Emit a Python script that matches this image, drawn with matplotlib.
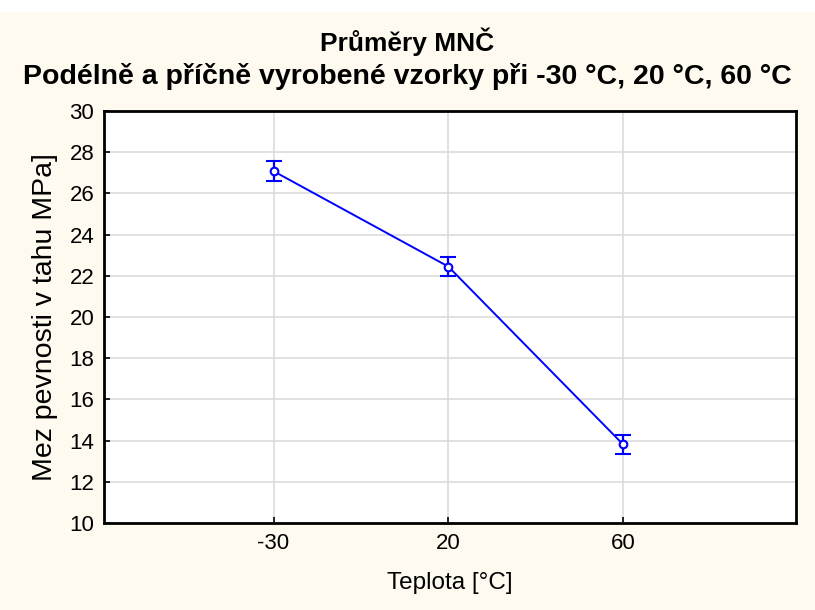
import matplotlib
matplotlib.use('Agg')
import matplotlib.pyplot as plt
from matplotlib.patches import Rectangle

plt.rcParams['font.family'] = ['Liberation Sans', 'DejaVu Sans']

categories = ['-30', '20', '60']
means = [27.08, 22.45, 13.82]
errors = [0.50, 0.48, 0.47]

fig = plt.figure(figsize=(8.15, 6.1), dpi=100, facecolor='#fffaf0')
fig.patches.append(Rectangle((0, 0.981), 1, 0.019, transform=fig.transFigure,
                             facecolor='white', edgecolor='none', zorder=0))
ax = fig.add_axes([104/815, 1 - 523/610, (796-104)/815, (523-111)/610])
ax.set_facecolor('white')

x = list(range(len(categories)))
ax.errorbar(x, means, yerr=errors, color='blue', lw=1.4, capsize=6, capthick=1.6,
            elinewidth=1.6, marker='o', markersize=5.5, markerfacecolor='white',
            markeredgecolor='blue', markeredgewidth=1.5, zorder=3)

ax.set_xlim(-0.97, 2.99)
ax.set_ylim(10, 30)
ax.set_xticks(x)
ax.set_xticklabels(categories)
ax.set_yticks(range(10, 31, 2))
ax.tick_params(direction='in', length=4, width=1.2, labelsize=16, pad=7)
ax.grid(True, color='#dcdcdc', lw=1.2)
ax.set_axisbelow(True)
for s in ax.spines.values():
    s.set_linewidth(2)
    s.set_color('black')

ax.set_xlabel('Teplota [°C]', fontsize=17.5, labelpad=13)
ax.set_ylabel('Mez pevnosti v tahu MPa]', fontsize=20.5, labelpad=8)

fig.text(0.5, 1 - 42/610, 'Průměry MNČ', ha='center', va='center',
         fontsize=19, fontweight='bold')
fig.text(0.5, 1 - 77/610, 'Podélně a příčně vyrobené vzorky při -30 °C, 20 °C, 60 °C',
         ha='center', va='center', fontsize=20.5, fontweight='bold')

fig.savefig('out.png', dpi=100, facecolor=fig.get_facecolor())
